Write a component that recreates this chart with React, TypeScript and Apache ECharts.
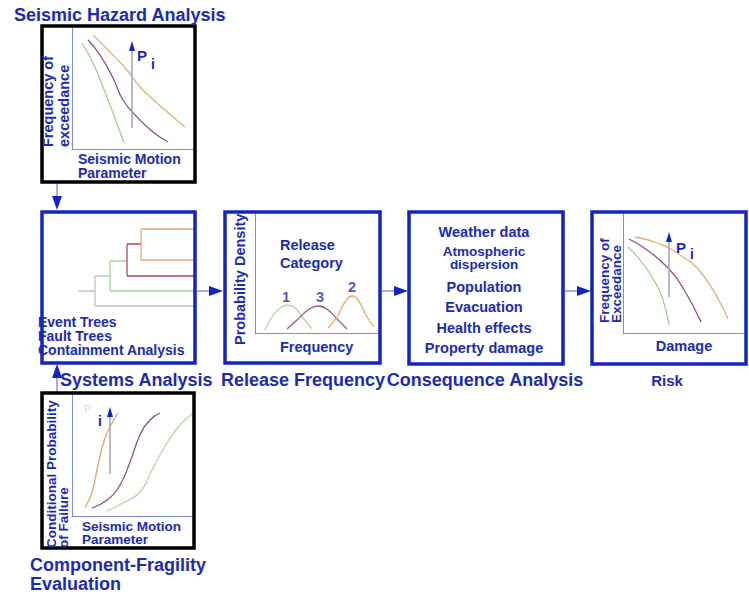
import React, { useEffect, useRef } from "react";
import * as echarts from "echarts";

// ---- Data (plot units: x = right from the plot's left axis, y = up from its bottom axis) ----
const hazardGreen = [[10, 106], [21, 86], [31, 62], [41, 36], [52, 6]];
const hazardPurple = [[16, 109], [28, 94], [41, 71], [51, 49], [65, 32], [81, 17], [96, 7]];
const hazardOrange = [[21, 114], [38, 97], [55, 79], [68, 62], [85, 46], [101, 32], [113, 22]];
const hazardArrow = [[60, 21], [60, 103]];

const releaseCat1 = [[10, 3], [17, 16], [23, 23], [32, 28], [40, 25], [48, 15], [57, 4]];
const releaseCat3 = [[32, 4], [42, 13], [53, 23], [63, 27], [73, 23], [83, 13], [92, 4]];
const releaseCat2 = [[73, 5], [82, 16], [90, 31], [97, 37], [103, 33], [112, 16], [119, 6]];
const releaseLabels = [["1", 31, 36], ["3", 65, 36], ["2", 97, 46]];

const riskGreen = [[5, 86], [17, 73], [29, 56], [39, 36], [46, 8]];
const riskPurple = [[6, 94], [24, 83], [44, 66], [60, 45], [78, 11]];
const riskOrange = [[12, 96], [34, 90], [57, 78], [80, 58], [105, 14]];
const riskArrow = [[46, 36], [46, 96]];

const fragOrange = [[13, 8], [20, 24], [26, 51], [33, 78], [40, 93], [46, 103]];
const fragPurple = [[20, 8], [35, 16], [48, 31], [58, 54], [68, 81], [78, 96], [88, 103]];
const fragGreen = [[35, 5], [51, 13], [68, 24], [81, 48], [95, 73], [108, 91], [121, 103]];
const fragArrow = [[38, 42], [38, 104]];

// Event tree branches (x right, y down inside the Systems Analysis box)
const treeGrey = [[[36, 79], [53, 79]], [[53, 64], [53, 94]], [[53, 94], [153, 94]], [[53, 64], [68, 64]]];
const treeGreen = [[[68, 49], [68, 79]], [[68, 79], [153, 79]], [[68, 49], [85, 49]]];
const treeRed = [[[85, 32], [85, 64]], [[85, 64], [153, 64]], [[85, 32], [99, 32]]];
const treeOrange = [[[99, 17], [99, 48]], [[99, 17], [153, 17]], [[99, 48], [153, 48]]];

const systemsItems = ["Event Trees", "Fault Trees", "Containment Analysis"];
const consequenceItems = [
  "Weather data",
  "Atmospheric\ndispersion",
  "Population",
  "Evacuation",
  "Health effects",
  "Property damage",
];

// ---- Styles ----
const BLUE = "#1c2bb3";
const BORDER_BLUE = "#1424c4";
const AXIS_BLUE = "#7f8cdc";
const ARROW_LINE = "#8c9be0";
const FONT = '"Liberation Sans", Arial, sans-serif';
const C_GREEN = "#9fd48e";
const C_PURPLE = "#8c4f86";
const C_ORANGE = "#e2b07e";
const FS = 14.5;
const TS = 18;

export default function App() {
  const ref = useRef<HTMLDivElement>(null);

  useEffect(() => {
    if (!ref.current) return;
    const chart = echarts.init(ref.current, null, { renderer: "svg" });

    const grids = [
      { left: 72, top: 27, width: 121, height: 122 }, // hazard
      { left: 42, top: 212, width: 153, height: 151 }, // tree
      { left: 255, top: 212, width: 125, height: 121 }, // release
      { left: 623, top: 212, width: 123, height: 121 }, // risk
      { left: 72, top: 393, width: 122, height: 123 }, // fragility
    ];

    const axisShow = (i: number) => i !== 1;
    const xAxis = grids.map((g, i) => ({
      type: "value",
      gridIndex: i,
      min: 0,
      max: g.width,
      axisLine: { show: axisShow(i), onZero: false, lineStyle: { color: AXIS_BLUE, width: 1 } },
      axisTick: { show: false },
      axisLabel: { show: false },
      splitLine: { show: false },
    }));
    const yAxis = grids.map((g, i) => ({
      type: "value",
      gridIndex: i,
      min: 0,
      max: g.height,
      inverse: i === 1,
      axisLine: { show: axisShow(i), onZero: false, lineStyle: { color: AXIS_BLUE, width: 1 } },
      axisTick: { show: false },
      axisLabel: { show: false },
      splitLine: { show: false },
    }));

    const curve = (idx: number, data: number[][], color: string, width = 1.3) => ({
      type: "line",
      xAxisIndex: idx,
      yAxisIndex: idx,
      data,
      smooth: 0.5,
      symbol: "none",
      lineStyle: { color, width },
      silent: true,
      z: 3,
    });

    const arrow = (idx: number, data: number[][]) => ({
      type: "line",
      xAxisIndex: idx,
      yAxisIndex: idx,
      data: [
        { value: data[0], symbol: "none" },
        { value: data[1], symbol: "triangle", symbolSize: [6, 10], itemStyle: { color: BORDER_BLUE } },
      ],
      showSymbol: true,
      lineStyle: { color: "#a9a9b4", width: 1.6 },
      silent: true,
      z: 4,
    });

    const tree = (segs: number[][][], color: string) =>
      segs.map((s) => ({
        type: "line",
        xAxisIndex: 1,
        yAxisIndex: 1,
        data: s,
        symbol: "none",
        lineStyle: { color, width: 1.3 },
        silent: true,
      }));

    const series: any[] = [
      curve(0, hazardGreen, C_GREEN),
      curve(0, hazardPurple, C_PURPLE),
      curve(0, hazardOrange, C_ORANGE),
      arrow(0, hazardArrow),
      ...tree(treeGrey, "#c4c4c4"),
      ...tree(treeGreen, "#a5d896"),
      ...tree(treeRed, "#b0455e"),
      ...tree(treeOrange, "#e6a774"),
      curve(2, releaseCat1, "#b5d69a"),
      curve(2, releaseCat3, "#9e5a82"),
      curve(2, releaseCat2, "#e8ad6c"),
      {
        type: "scatter",
        xAxisIndex: 2,
        yAxisIndex: 2,
        data: releaseLabels.map((l) => ({ value: [l[1], l[2]], name: l[0] })),
        symbolSize: 0,
        silent: true,
        label: {
          show: true,
          formatter: (p: any) => p.name,
          position: "inside",
          color: BLUE,
          fontFamily: FONT,
          fontWeight: "bold",
          fontSize: 14.5,
        },
      },
      curve(3, riskGreen, C_GREEN),
      curve(3, riskPurple, C_PURPLE),
      curve(3, riskOrange, C_ORANGE),
      arrow(3, riskArrow),
      curve(4, fragOrange, "#e3a868"),
      curve(4, fragPurple, C_PURPLE),
      curve(4, fragGreen, "#b5d8a4"),
      arrow(4, fragArrow),
    ];

    const txt = (
      text: string,
      x: number,
      y: number,
      size = FS,
      align = "left",
      color = BLUE,
      extra: any = {},
      lineHeight?: number
    ) => ({
      type: "text",
      x,
      y,
      z: 50,
      ...extra,
      style: {
        text,
        fill: color,
        fontFamily: FONT,
        fontWeight: "bold",
        fontSize: size,
        align,
        verticalAlign: "middle",
        ...(lineHeight ? { lineHeight } : {}),
      },
    });
    const vtxt = (text: string, x: number, y: number, size: number, lineHeight: number) =>
      txt(text, x, y, size, "left", BLUE, { rotation: Math.PI / 2 }, lineHeight);

    const box = (x: number, y: number, w: number, h: number, stroke: string) => ({
      type: "rect",
      z: 40,
      shape: { x, y, width: w, height: h },
      style: { fill: "none", stroke, lineWidth: 3.5 },
    });

    const hArrow = (x1: number, x2: number, y: number) => [
      { type: "line", z: 30, shape: { x1, y1: y, x2: x2 - 12, y2: y }, style: { stroke: ARROW_LINE, lineWidth: 1.6 } },
      {
        type: "polygon",
        z: 31,
        shape: { points: [[x2 - 14, y - 5], [x2 - 14, y + 5], [x2, y]] },
        style: { fill: BORDER_BLUE },
      },
    ];
    const vArrow = (x: number, y1: number, y2: number) => {
      const dir = y2 > y1 ? 1 : -1;
      return [
        { type: "line", z: 30, shape: { x1: x, y1, x2: x, y2: y2 - dir * 12 }, style: { stroke: ARROW_LINE, lineWidth: 1.6 } },
        {
          type: "polygon",
          z: 31,
          shape: { points: [[x - 5, y2 - dir * 14], [x + 5, y2 - dir * 14], [x, y2]] },
          style: { fill: BORDER_BLUE },
        },
      ];
    };

    const consY = [232, 258, 287, 307, 328, 348];

    const graphic: any[] = [
      // boxes
      box(42, 26, 153, 156, "#000000"),
      box(42, 212, 153, 151, BORDER_BLUE),
      box(225, 212, 155, 151, BORDER_BLUE),
      box(409, 212, 154, 152, BORDER_BLUE),
      box(592, 212, 154, 152, BORDER_BLUE),
      box(42, 393, 152, 155, "#000000"),
      // arrows
      ...vArrow(57, 183, 210),
      ...vArrow(57, 392, 364),
      ...hArrow(197, 223, 291),
      ...hArrow(382, 408, 291),
      ...hArrow(565, 591, 291),
      // hazard
      txt("Seismic Hazard Analysis", 14, 15, TS),
      vtxt("Frequency of\nexceedance", 56, 147, 14.5, 16),
      txt("Seismic Motion\nParameter", 78, 165.5, 14, "left", BLUE, {}, 14),
      txt("P", 137, 55, 15),
      txt("i", 151, 64, 14),
      // systems
      txt(systemsItems.join("\n"), 38, 336, 14, "left", BLUE, {}, 14),
      txt("Systems Analysis", 60, 380, TS),
      // release
      vtxt("Probability Density", 240, 345, 14.5, 16),
      txt("Release", 280, 245),
      txt("Category", 280, 263),
      txt("Frequency", 280, 347),
      txt("Release Frequency", 221, 380, TS),
      // consequence
      ...consequenceItems.map((t, i) => txt(t, 484, consY[i], i === 1 ? 13.5 : FS, "center", BLUE, {}, 13)),
      txt("Consequence Analysis", 485, 380, TS, "center"),
      // risk
      vtxt("Frequency of\nExceedance", 610.5, 323, 13.5, 11.5),
      txt("Damage", 684, 346, FS, "center"),
      txt("P", 676, 247, 15),
      txt("i", 690, 254, 14),
      txt("Risk", 667, 380, 15, "center"),
      // fragility
      vtxt("Conditional Probability\nof Failure", 57.5, 548, 13.5, 11.5),
      txt("Seismic Motion\nParameter", 82, 533, 13.5, "left", BLUE, {}, 13),
      txt("P", 84, 409, 11, "left", "#e2e4ef"),
      txt("i", 98, 421, 14),
      txt("Component-Fragility", 30, 565, TS),
      txt("Evaluation", 30, 584, TS),
    ];

    chart.setOption({
      animation: false,
      backgroundColor: "#ffffff",
      grid: grids.map((g) => ({ ...g, containLabel: false })),
      xAxis,
      yAxis,
      series,
      graphic,
    });

    return () => chart.dispose();
  }, []);

  return (
    <div
      ref={ref}
      style={{ position: "absolute", left: 0, top: 0, width: 749, height: 596, background: "#fff" }}
    />
  );
}
